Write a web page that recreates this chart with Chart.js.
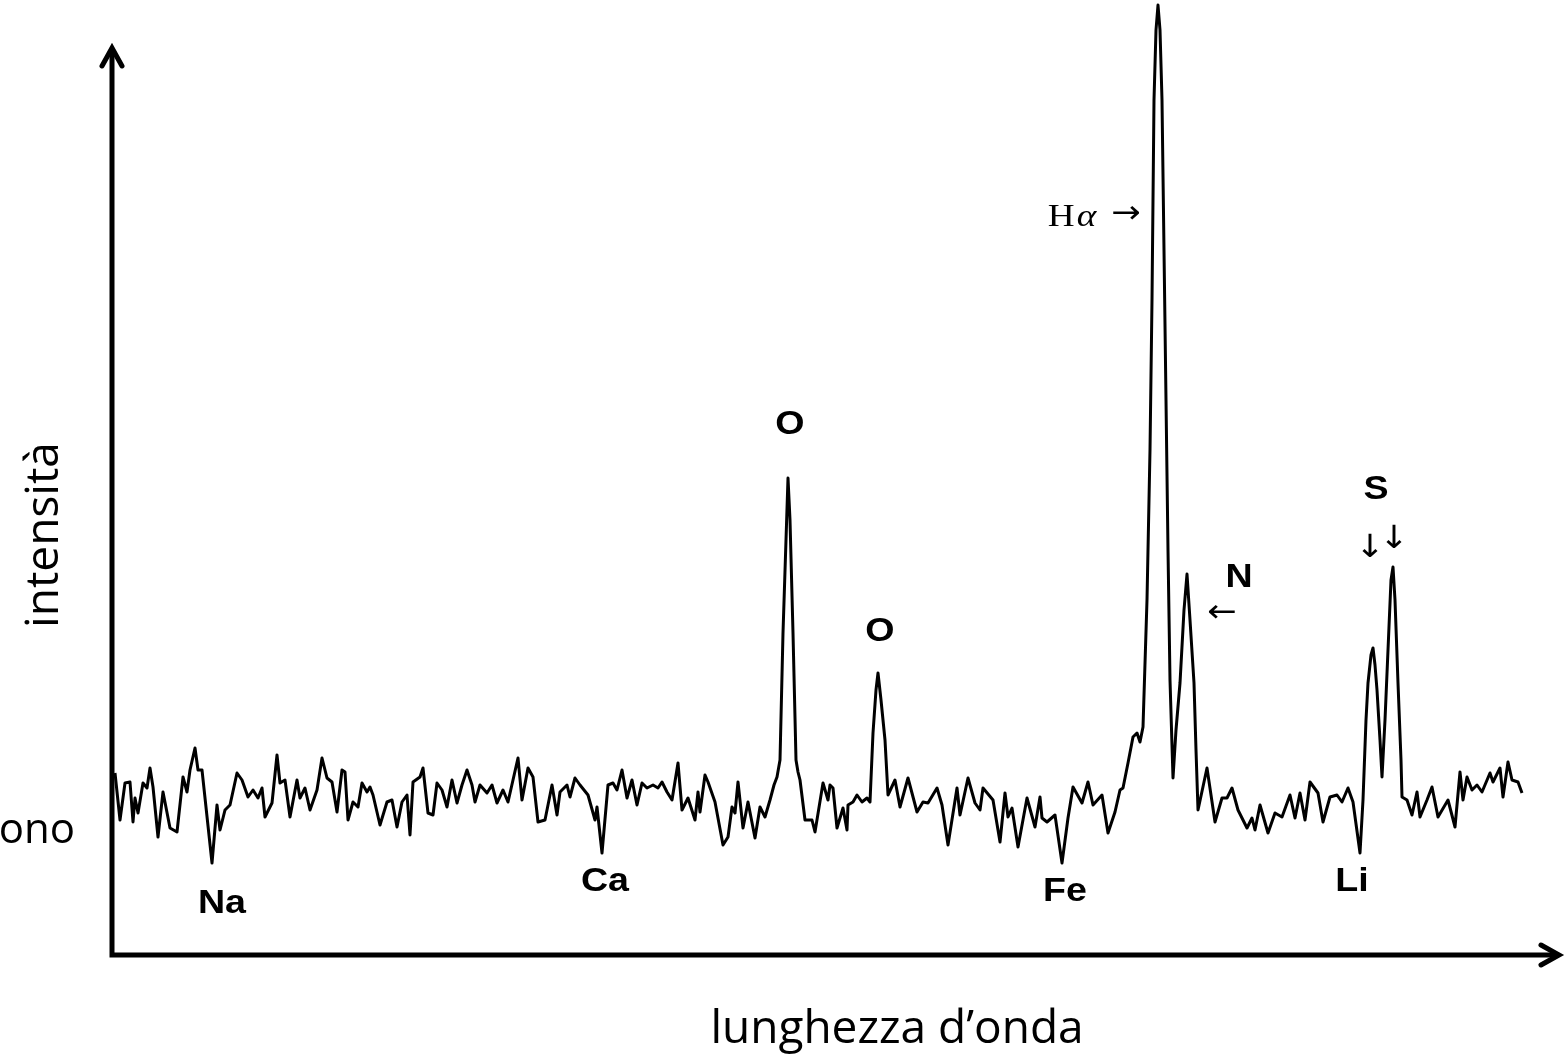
<!DOCTYPE html>
<html><head><meta charset="utf-8">
<script src="https://cdn.jsdelivr.net/npm/chart.js@4"></script>
<style>html,body{margin:0;padding:0;background:#fff;overflow:hidden}</style>
</head><body>
<canvas id="c" width="1565" height="1055"></canvas>
<script>
// wavelength (arbitrary units, 0 = origin of the axes)
const wavelength = [
  3,8,13,18,21,23,26,31,35,38,
  41,46,51,58,65,71,75,78,83,86,
  90,100,105,108,113,118,125,130,136,141,
  146,150,153,160,165,168,173,178,185,188,
  193,198,205,210,215,220,225,230,233,236,
  241,246,250,255,258,261,268,275,280,285,
  290,295,298,301,308,311,316,321,325,330,
  335,340,345,350,355,360,363,368,375,380,
  385,391,396,401,406,410,416,421,426,433,
  440,445,448,455,458,463,468,476,483,485,
  490,496,501,505,510,515,520,525,530,535,
  541,546,550,555,560,566,570,576,583,586,
  588,593,596,603,611,616,620,623,626,631,
  636,643,648,653,658,662,665,668,671,674,
  676,678,681,684,686,688,693,700,703,711,
  716,718,721,725,731,735,736,741,745,750,
  755,758,761,764,766,769,773,776,783,788,
  796,805,811,816,825,830,836,845,848,856,
  863,868,871,881,888,893,896,900,906,915,
  923,928,930,935,943,950,956,961,970,976,
  981,990,996,1003,1008,1011,1016,1021,1025,1028,
  1031,1035,1038,1040,1042,1044,1046,1048,1050,1052,
  1054,1056,1058,1061,1064,1068,1072,1075,1078,1082,
  1084,1086,1095,1103,1110,1115,1120,1126,1135,1140,
  1143,1148,1156,1163,1170,1178,1183,1188,1193,1198,
  1206,1211,1218,1225,1230,1236,1241,1248,1251,1254,
  1256,1259,1261,1263,1265,1268,1270,1273,1276,1279,
  1281,1283,1286,1289,1290,1295,1300,1305,1308,1315,
  1320,1326,1336,1343,1348,1351,1355,1360,1365,1370,
  1378,1381,1388,1391,1396,1400,1406,1410
];
// intensity (arbitrary units)
const intensity = [
  182,135,172,173,133,157,142,172,167,187,
  168,118,163,127,123,178,163,185,207,185,
  185,92,150,125,145,150,182,175,158,165,
  157,167,138,152,200,172,175,138,175,157,
  167,145,165,197,177,173,143,185,183,135,
  153,148,172,163,168,160,130,153,155,128,
  153,160,120,173,178,187,142,140,172,165,
  148,175,152,170,185,170,153,170,162,170,
  152,165,153,175,197,155,187,178,133,135,
  170,140,163,170,158,177,170,160,135,148,
  102,170,172,165,185,157,175,150,172,167,
  170,167,173,163,155,192,145,157,135,163,
  143,180,173,153,110,118,148,142,173,127,
  153,117,148,138,155,170,178,195,322,415,
  477,435,322,195,183,175,135,135,123,172,
  155,170,167,127,147,125,150,153,160,153,
  157,153,222,265,282,255,215,160,175,148,
  177,143,153,152,167,150,110,167,140,177,
  152,145,167,155,113,162,138,147,108,157,
  128,158,137,133,140,92,137,168,152,173,
  150,160,122,143,165,167,192,218,222,213,
  228,355,505,655,855,925,950,925,855,705,
  555,405,275,177,225,272,345,381,335,272,
  205,145,187,133,157,157,167,145,127,137,
  125,150,122,142,138,160,137,162,135,173,
  162,133,158,160,153,167,153,102,155,235,
  272,300,307,290,265,215,178,235,305,375,
  388,355,272,195,158,155,140,163,138,155,
  168,138,155,128,183,155,178,165,170,163,
  182,173,187,158,193,175,173,162
];
// spectral line labels (placed in data units)
const lineNames = ['Na','Ca','Fe','Li','O','O','N','S'];
const lineX     = [110, 493, 953, 1240, 678, 768, 1127, 1264];
const lineY     = [51, 73, 63, 73, 530, 323, 377, 465];
const arrowGlyphs = ['→','←','↓','↓'];
const arrowX      = [1014, 1110, 1258, 1282];
const arrowY      = [740, 341, 406, 415];
const halphaX = 960, halphaY = 737;
const xTitle = 'lunghezza d’onda';
const yTitle = 'intensità';
const sideText = 'ono';

function txt(ctx, s, px, py, font, sx, align, base) {
  ctx.save();
  ctx.translate(px, py);
  ctx.scale(sx, 1);
  ctx.font = font;
  ctx.fillStyle = '#000';
  ctx.textAlign = align || 'center';
  ctx.textBaseline = base || 'middle';
  ctx.fillText(s, 0, 0);
  ctx.restore();
}

const decor = {
  id: 'decor',
  afterDatasetsDraw(chart) {
    const {ctx, scales: {x, y}} = chart;
    const x0 = x.getPixelForValue(0), y0 = y.getPixelForValue(0);
    const xEnd = chart.width - 6, yTop = 48;
    ctx.save();
    ctx.strokeStyle = '#000';
    ctx.lineWidth = 5;
    ctx.lineCap = 'butt';
    ctx.beginPath();
    ctx.moveTo(x0, y0 + 2.5); ctx.lineTo(x0, yTop + 2);
    ctx.moveTo(x0 - 2.5, y0); ctx.lineTo(xEnd - 2, y0);
    ctx.stroke();
    ctx.lineCap = 'round'; ctx.lineJoin = 'miter';
    ctx.beginPath();
    ctx.moveTo(x0 - 10, yTop + 18); ctx.lineTo(x0, yTop); ctx.lineTo(x0 + 10, yTop + 18);
    ctx.moveTo(xEnd - 18, y0 - 10); ctx.lineTo(xEnd, y0); ctx.lineTo(xEnd - 18, y0 + 10);
    ctx.stroke();
    ctx.restore();

    // element labels
    for (let i = 0; i < lineNames.length; i++) {
      txt(ctx, lineNames[i], x.getPixelForValue(lineX[i]), y.getPixelForValue(lineY[i]),
          'bold 33px "Liberation Sans", Arial, sans-serif', 1.14);
    }
    for (let i = 0; i < arrowGlyphs.length; i++) {
      txt(ctx, arrowGlyphs[i], x.getPixelForValue(arrowX[i]), y.getPixelForValue(arrowY[i]),
          '32px "DejaVu Sans", sans-serif', 1.1);
    }
    // H alpha
    const hx = x.getPixelForValue(halphaX), hy = y.getPixelForValue(halphaY);
    ctx.save();
    ctx.font = '31px "Liberation Serif", serif';
    const wH = ctx.measureText('H').width * 1.2;
    ctx.font = 'italic 31px "Liberation Serif", serif';
    const wA = ctx.measureText('α').width * 1.2;
    ctx.restore();
    const hs = hx - (wH + wA + 2) / 2;
    txt(ctx, 'H', hs, hy, '31px "Liberation Serif", serif', 1.2, 'left', 'middle');
    txt(ctx, 'α', hs + wH + 2, hy, 'italic 31px "Liberation Serif", serif', 1.2, 'left', 'middle');

    // axis titles and side text
    txt(ctx, xTitle, 897, 1043, '46px "Open Sans", sans-serif', 1, 'center', 'alphabetic');
    ctx.save();
    ctx.translate(58, 535);
    ctx.rotate(-Math.PI / 2);
    ctx.font = '46px "Open Sans", sans-serif';
    ctx.fillStyle = '#000';
    ctx.textAlign = 'center';
    ctx.textBaseline = 'alphabetic';
    ctx.fillText(yTitle, 0, 0);
    ctx.restore();
    txt(ctx, sideText, 75, 843, '42px "Open Sans", sans-serif', 1, 'right', 'alphabetic');
  }
};

new Chart(document.getElementById('c'), {
  type: 'line',
  data: {
    datasets: [{
      data: wavelength.map((w, i) => ({x: w, y: intensity[i]})),
      borderColor: '#000',
      borderWidth: 3,
      borderJoinStyle: 'round',
      pointRadius: 0,
      tension: 0,
      fill: false,
      clip: false
    }]
  },
  options: {
    responsive: false,
    animation: false,
    devicePixelRatio: 1,
    layout: {padding: {left: 112, right: 5, top: 0, bottom: 100}},
    scales: {
      x: {type: 'linear', min: 0, max: 1448, display: false},
      y: {type: 'linear', min: 0, max: 955, display: false}
    },
    plugins: {legend: {display: false}, tooltip: {enabled: false}}
  },
  plugins: [decor]
});
</script>
</body></html>
